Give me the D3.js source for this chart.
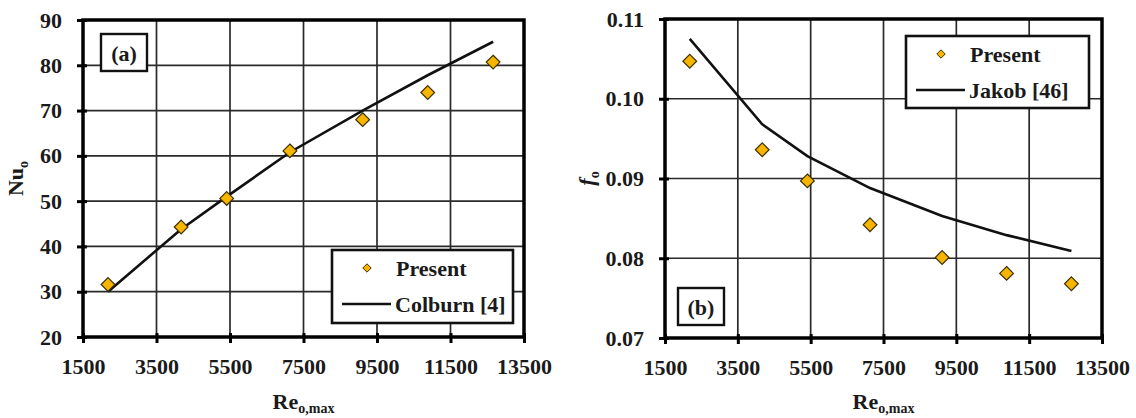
<!DOCTYPE html>
<html>
<head>
  <meta charset="utf-8">
  <script src="https://d3js.org/d3.v7.min.js"></script>
  <style>
    html, body { margin: 0; padding: 0; background: #fff; }
    svg, svg text { font-family: "Liberation Serif", "Times New Roman", Times, serif !important; font-weight: bold; }
  </style>
</head>
<body>
  <svg id="chart" width="1136" height="418"></svg>
  <script>
    // Reynolds numbers of the measured points
    var reValues = [2180, 4170, 5410, 7130, 9110, 10880, 12660];

    // panel (a) : Nusselt number
    var nuPresent = [31.6, 44.3, 50.6, 61.1, 68.0, 74.0, 80.7];
    var nuColburn = [30.0, 43.8, 51.0, 60.8, 70.0, 77.8, 85.2];

    // panel (b) : friction factor
    var fPresent = [0.1047, 0.0936, 0.0897, 0.0842, 0.0801, 0.0781, 0.0768];
    var fJakob = [0.1075, 0.0968, 0.0928, 0.0888, 0.0853, 0.0829, 0.0809];

    var xTicks = [1500, 3500, 5500, 7500, 9500, 11500, 13500];
    var nuTicks = [20, 30, 40, 50, 60, 70, 80, 90];
    var fTicks = [0.07, 0.08, 0.09, 0.10, 0.11];

    var svg = d3.select("#chart");

    function drawPanel(opt) {
      var g = svg.append("g");

      var x = d3.scaleLinear().domain([1500, 13500]).range([opt.left, opt.right]);
      var y = d3.scaleLinear().domain(opt.yDomain).range([opt.bottom, opt.top]);

      // grid
      g.append("g").selectAll("line").data(xTicks).join("line")
        .attr("x1", d => x(d)).attr("x2", d => x(d))
        .attr("y1", opt.top).attr("y2", opt.bottom)
        .attr("stroke", "#2a2a2a").attr("stroke-width", 1.7);
      g.append("g").selectAll("line").data(opt.yTicks).join("line")
        .attr("x1", opt.left).attr("x2", opt.right)
        .attr("y1", d => y(d)).attr("y2", d => y(d))
        .attr("stroke", "#2a2a2a").attr("stroke-width", 1.7);

      // axes
      var xAxis = g.append("g")
        .attr("transform", "translate(0," + opt.bottom + ")")
        .call(d3.axisBottom(x).tickValues(xTicks).tickFormat(d3.format("d"))
          .tickSizeInner(6).tickSizeOuter(0).tickPadding(15));
      var yAxis = g.append("g")
        .attr("transform", "translate(" + opt.left + ",0)")
        .call(d3.axisLeft(y).tickValues(opt.yTicks).tickFormat(opt.yFormat)
          .tickSizeInner(6).tickSizeOuter(0).tickPadding(15));

      [xAxis, yAxis].forEach(a => {
        a.attr("font-family", null);
        a.select(".domain").remove();
        a.selectAll(".tick line").attr("stroke", "#000").attr("stroke-width", 3);
        a.selectAll(".tick text")
          .style("font-size", "22px")
          .attr("fill", "#1a1a1a");
      });
      xAxis.selectAll(".tick line").attr("y1", -4);
      yAxis.selectAll(".tick line").attr("x1", 4);

      // frame
      g.append("rect")
        .attr("x", opt.left).attr("y", opt.top)
        .attr("width", opt.right - opt.left).attr("height", opt.bottom - opt.top)
        .attr("fill", "none").attr("stroke", "#000").attr("stroke-width", 3.5);

      // correlation line
      var pts = reValues.map((r, i) => [r, opt.lineValues[i]]);
      g.append("path")
        .datum(pts)
        .attr("fill", "none")
        .attr("stroke", "#111")
        .attr("stroke-width", 2.6)
        .attr("d", d3.line().x(d => x(d[0])).y(d => y(d[1])));

      // present data (diamonds)
      var diamond = d3.symbol().type(d3.symbolDiamond2).size(120);
      g.append("g").selectAll("path").data(reValues).join("path")
        .attr("transform", (d, i) => "translate(" + x(d) + "," + y(opt.points[i]) + ")")
        .attr("d", diamond)
        .attr("fill", "#F7B500")
        .attr("stroke", "#3a3000")
        .attr("stroke-width", 1.2);

      // axis titles
      var xt = g.append("text")
        .attr("x", (opt.left + opt.right) / 2).attr("y", 409)
        .attr("text-anchor", "middle")
        .style("font-size", "22px").attr("fill", "#1a1a1a");
      xt.append("tspan").text("Re");
      xt.append("tspan").style("font-size", "14px").attr("dy", 4).text("o,max");

      var yt = g.append("text")
        .attr("transform", "translate(" + opt.yTitleX + "," + (opt.top + opt.bottom) / 2 + ") rotate(-90)")
        .attr("text-anchor", "middle")
        .style("font-size", "22px").attr("fill", "#1a1a1a");
      yt.append("tspan").style("font-style", opt.yTitleItalic ? "italic" : "normal").text(opt.yTitle);
      yt.append("tspan").style("font-size", "14px").attr("dy", 5).text("o");

      // legend
      var lg = opt.legend;
      g.append("rect")
        .attr("x", lg.x).attr("y", lg.y).attr("width", lg.w).attr("height", lg.h)
        .attr("fill", "#fff").attr("stroke", "#111").attr("stroke-width", 2.6);
      g.append("path")
        .attr("transform", "translate(" + (lg.x + 35) + "," + (lg.y + 18) + ")")
        .attr("d", d3.symbol().type(d3.symbolDiamond2).size(45))
        .attr("fill", "#F7B500").attr("stroke", "#3a3000").attr("stroke-width", 1);
      g.append("text").attr("x", lg.x + 64).attr("y", lg.y + 26)
        .style("font-size", "22px").attr("fill", "#1a1a1a").text("Present");
      g.append("line")
        .attr("x1", lg.x + 10).attr("x2", lg.x + 59)
        .attr("y1", lg.y + 54).attr("y2", lg.y + 54)
        .attr("stroke", "#111").attr("stroke-width", 2.6);
      g.append("text").attr("x", lg.x + 63).attr("y", lg.y + 62)
        .style("font-size", "22px").attr("fill", "#1a1a1a").text(lg.label);

      // panel tag
      var tg = opt.tag;
      g.append("rect")
        .attr("x", tg.x).attr("y", tg.y).attr("width", 46).attr("height", 37)
        .attr("fill", "#fff").attr("stroke", "#111").attr("stroke-width", 2.4);
      g.append("text").attr("x", tg.x + 23).attr("y", tg.y + 27)
        .attr("text-anchor", "middle").style("font-size", "22px").attr("fill", "#1a1a1a")
        .text(tg.text);
    }

    drawPanel({
      left: 83, right: 524, top: 20, bottom: 337,
      yDomain: [20, 90], yTicks: nuTicks, yFormat: d3.format("d"),
      points: nuPresent, lineValues: nuColburn,
      yTitle: "Nu", yTitleItalic: false, yTitleX: 23,
      legend: { x: 332, y: 250, w: 181, h: 73, label: "Colburn [4]" },
      tag: { x: 101, y: 34, text: "(a)" }
    });

    drawPanel({
      left: 665, right: 1102, top: 19, bottom: 338,
      yDomain: [0.07, 0.11], yTicks: fTicks, yFormat: d3.format(".2f"),
      points: fPresent, lineValues: fJakob,
      yTitle: "f", yTitleItalic: true, yTitleX: 594,
      legend: { x: 906, y: 36, w: 183, h: 72, label: "Jakob [46]" },
      tag: { x: 678, y: 288, text: "(b)" }
    });
  </script>
</body>
</html>
